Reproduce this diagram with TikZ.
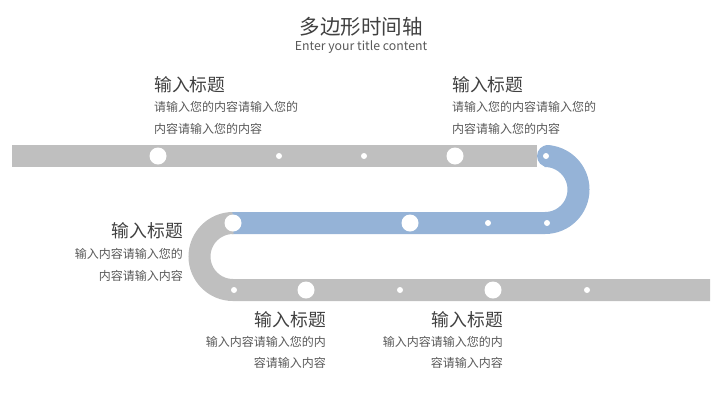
\documentclass[tikz,border=0pt]{standalone}
\usepackage{fontspec}
\setmainfont{Noto Sans CJK SC}
\definecolor{bandgray}{HTML}{BFBFBF}
\definecolor{bandblue}{HTML}{95B3D7}
\definecolor{txtdark}{HTML}{404040}
\definecolor{txtbody}{HTML}{595959}
\begin{document}
\begin{tikzpicture}[x=1pt,y=-1pt,
  band/.style={line width=22pt},
  bigdot/.style={circle,fill=white,inner sep=0pt,minimum size=17pt},
  smalldot/.style={circle,fill=white,inner sep=0pt,minimum size=6pt},
  ttl/.style={font=\fontsize{17.8}{20}\selectfont,text=txtdark,inner sep=0pt},
  body/.style={font=\fontsize{12}{14}\selectfont,text=txtbody,inner sep=0pt}]
\useasboundingbox (0,0) rectangle (720,405);
% title
\node[font=\fontsize{20.5}{23}\selectfont,text=txtdark,inner sep=0pt] (title) at (361,27) {多边形时间轴};
\node[font=\fontsize{12.3}{14}\selectfont,text=txtbody,inner sep=0pt] (sub) at (361,47) {Enter your title content};
% bands
\coordinate (t0) at (12,156);
\coordinate (t1) at (537,156);
\draw[band,bandgray] (t0) -- (t1);
\coordinate (b0) at (548,156);
\coordinate (m0) at (232,223);
\fill[bandblue] (b0) circle[radius=11pt];
\draw[band,bandblue] (545,156) arc[start angle=-90,end angle=90,radius=33.5] -- (m0);
\coordinate (l0) at (233,223);
\coordinate (e1) at (710,290);
\draw[band,bandgray] (l0) arc[start angle=-90,end angle=-270,radius=33.5] -- (e1);
% dots
\node[bigdot] (d1) at (158,156) {};
\node[smalldot] (d2) at (279,156) {};
\node[smalldot] (d3) at (364,156) {};
\node[bigdot] (d4) at (455,156) {};
\node[smalldot] (d5) at (546,156) {};
\node[bigdot] (d6) at (233,223) {};
\node[bigdot] (d7) at (410,223) {};
\node[smalldot] (d8) at (488,223) {};
\node[smalldot] (d9) at (547,223) {};
\node[smalldot] (d10) at (234,290) {};
\node[bigdot] (d11) at (306,290) {};
\node[smalldot] (d12) at (400,290) {};
\node[bigdot] (d13) at (493,290) {};
\node[smalldot] (d14) at (587,290) {};
% labels top-left
\node[ttl,anchor=west] (a1) at (154,85) {输入标题};
\node[body,anchor=west] (a2) at (154,107) {请输入您的内容请输入您的};
\node[body,anchor=west] (a3) at (154,129) {内容请输入您的内容};
% top-right
\node[ttl,anchor=west] (b1) at (452,85) {输入标题};
\node[body,anchor=west] (b2) at (452,107) {请输入您的内容请输入您的};
\node[body,anchor=west] (b3) at (452,129) {内容请输入您的内容};
% middle-left
\node[ttl,anchor=east] (c1) at (183,231) {输入标题};
\node[body,anchor=east] (c2) at (183,254) {输入内容请输入您的};
\node[body,anchor=east] (c3) at (183,276) {内容请输入内容};
% bottom 1
\node[ttl,anchor=east] (f1) at (326,320) {输入标题};
\node[body,anchor=east] (f2) at (326,342) {输入内容请输入您的内};
\node[body,anchor=east] (f3) at (326,363) {容请输入内容};
% bottom 2
\node[ttl,anchor=east] (g1) at (503,320) {输入标题};
\node[body,anchor=east] (g2) at (503,342) {输入内容请输入您的内};
\node[body,anchor=east] (g3) at (503,363) {容请输入内容};
\end{tikzpicture}
\end{document}
